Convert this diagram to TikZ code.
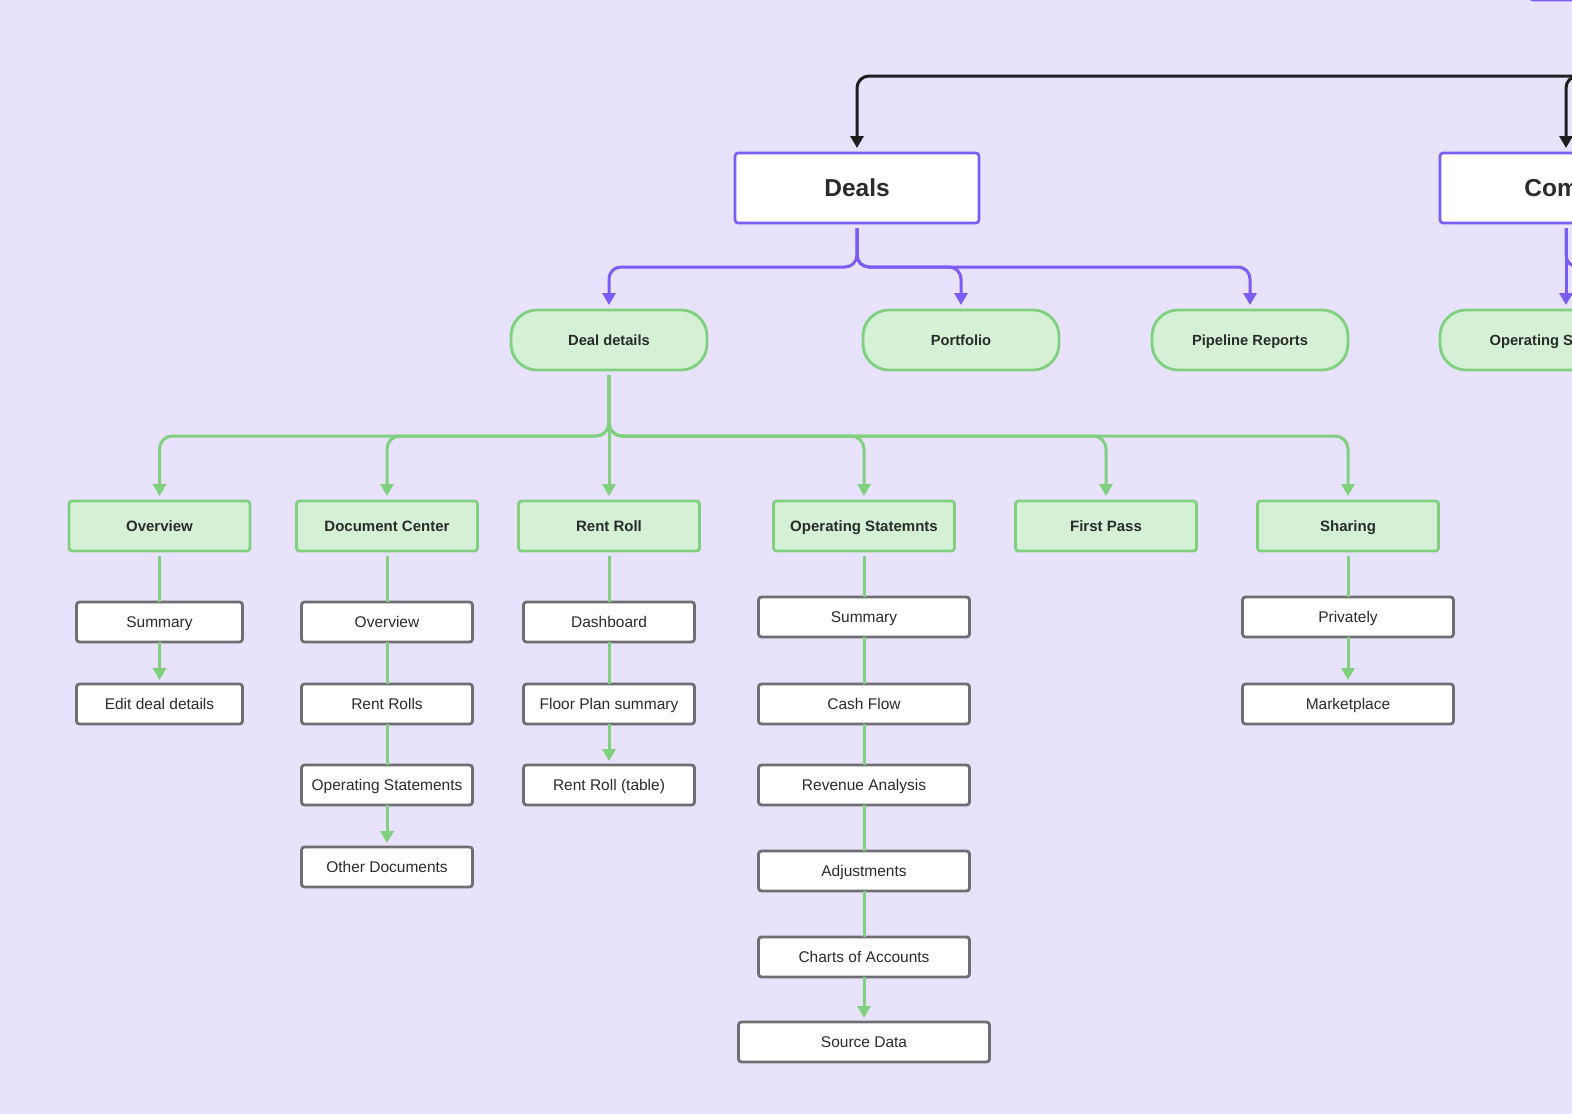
\documentclass[tikz,border=0pt]{standalone}
\usepackage{fontspec}
\setmainfont{Liberation Sans}
\usetikzlibrary{arrows.meta}

\definecolor{bglilac}{HTML}{E8E2FC}
\definecolor{linkpurple}{HTML}{7B5CF5}
\definecolor{leafgreen}{HTML}{80D080}
\definecolor{fillgreen}{HTML}{D4F1D6}
\definecolor{boxgray}{HTML}{6F6F73}
\definecolor{inkdark}{HTML}{2B2B2B}

\begin{document}
\begin{tikzpicture}[x=1pt, y=-1pt, align=center,
    hub/.style={draw=linkpurple, fill=white, line width=2.6pt, rounded corners=3pt,
        minimum width=244pt, minimum height=70pt, inner sep=0pt, outer sep=5pt,
        text height=20pt, text depth=2.5pt,
        text=inkdark, font=\fontsize{24.5}{28}\selectfont\bfseries},
    pill/.style={draw=leafgreen, fill=fillgreen, line width=2.8pt, rounded corners=26pt,
        minimum width=196pt, minimum height=60pt, inner sep=0pt, outer sep=5pt,
        text height=12pt, text depth=1.5pt,
        text=inkdark, font=\fontsize{14.7}{17}\selectfont\bfseries},
    sectionbox/.style={draw=leafgreen, fill=fillgreen, line width=2.8pt, rounded corners=3pt,
        minimum width=181pt, minimum height=50pt, inner sep=0pt, outer sep=5pt,
        text height=12.2pt, text depth=1.5pt,
        text=inkdark, font=\fontsize{15}{18}\selectfont\bfseries},
    pagebox/.style={draw=boxgray, fill=white, line width=2.8pt, rounded corners=3pt,
        minimum height=40pt, inner sep=0pt, outer sep=0pt,
        text height=12.6pt, text depth=1.5pt,
        text=inkdark, font=\fontsize{15.5}{18}\selectfont},
    blacklink/.style={draw=black!88, line width=3pt, rounded corners=12pt,
        -{Triangle[width=13pt,length=12pt]}},
    purplelink/.style={draw=linkpurple, line width=3pt, rounded corners=12pt,
        -{Triangle[width=13pt,length=12pt]}},
    greenlink/.style={draw=leafgreen, line width=3pt, rounded corners=13pt,
        -{Triangle[width=13pt,length=12pt]}},
    greenline/.style={draw=leafgreen, line width=3pt},
    greenarrow/.style={greenline, shorten >=4pt, -{Triangle[width=13pt,length=12pt]}}]

    \useasboundingbox (0, 0) rectangle (1572, 1114);
    \fill[bglilac] (0, 0) rectangle (1572, 1114);
    \clip (0, 0) rectangle (1572, 1114);

    % top level
    \node[hub, minimum width=250pt] at (1655, -35) (root) {};
    \node[hub] at (857, 188) (deals) {Deals};
    \node[hub, minimum width=252pt] at (1566, 188) (comps) {Comps};

    % second level
    \node[pill] at (609, 340) (dd) {Deal details};
    \node[pill] at (961, 340) (port) {Portfolio};
    \node[pill] at (1250, 340) (pipe) {Pipeline Reports};
    \node[pill, minimum width=252pt] at (1566, 340) (opstat) {Operating Statements};

    % sections of deal details
    \node[sectionbox] at (159.5, 526) (ov) {Overview};
    \node[sectionbox] at (387, 526) (dc) {Document Center};
    \node[sectionbox] at (609, 526) (rr) {Rent Roll};
    \node[sectionbox] at (864, 526) (os) {Operating Statemnts};
    \node[sectionbox] at (1106, 526) (fp) {First Pass};
    \node[sectionbox] at (1348, 526) (sh) {Sharing};

    % pages
    \node[pagebox, minimum width=166pt] at (159.5, 622) (ovsum) {Summary};
    \node[pagebox, minimum width=166pt] at (159.5, 704) (ovedit) {Edit deal details};

    \node[pagebox, minimum width=171pt] at (387, 622) (dcov) {Overview};
    \node[pagebox, minimum width=171pt] at (387, 704) (dcrent) {Rent Rolls};
    \node[pagebox, minimum width=171pt] at (387, 785) (dcops) {Operating Statements};
    \node[pagebox, minimum width=171pt] at (387, 867) (dcother) {Other Documents};

    \node[pagebox, minimum width=171pt] at (609, 622) (rrdash) {Dashboard};
    \node[pagebox, minimum width=171pt] at (609, 704) (rrfloor) {Floor Plan summary};
    \node[pagebox, minimum width=171pt] at (609, 785) (rrtable) {Rent Roll (table)};

    \node[pagebox, minimum width=211pt] at (864, 617) (ossum) {Summary};
    \node[pagebox, minimum width=211pt] at (864, 704) (oscash) {Cash Flow};
    \node[pagebox, minimum width=211pt] at (864, 785) (osrev) {Revenue Analysis};
    \node[pagebox, minimum width=211pt] at (864, 871) (osadj) {Adjustments};
    \node[pagebox, minimum width=211pt] at (864, 957) (oschart) {Charts of Accounts};
    \node[pagebox, minimum width=251pt] at (864, 1042) (ossource) {Source Data};

    \node[pagebox, minimum width=211pt] at (1348, 617) (shpriv) {Privately};
    \node[pagebox, minimum width=211pt] at (1348, 704) (shmarket) {Marketplace};

    % bus points
    \coordinate (rootbus) at (1655, 76);
    \coordinate (dealsbus) at (857, 267);
    \coordinate (compsbus) at (1566, 267);
    \coordinate (compsnext) at (1760, 305);
    \coordinate (ddbus) at (609, 436);

    \draw[blacklink] (root.south) -- (rootbus) -| (deals.north);
    \draw[blacklink] (root.south) -- (rootbus) -| (comps.north);

    \draw[purplelink] (deals.south) -- (dealsbus) -| (dd.north);
    \draw[purplelink] (deals.south) -- (dealsbus) -| (port.north);
    \draw[purplelink] (deals.south) -- (dealsbus) -| (pipe.north);
    \draw[purplelink] (comps.south) -- (opstat.north);
    \draw[purplelink] (comps.south) -- (compsbus) -| (compsnext);

    \draw[greenlink] (dd.south) -- (rr.north);
    \foreach \sec in {ov, dc, os, fp, sh}
        \draw[greenlink] (dd.south) -- (ddbus) -| (\sec.north);

    \foreach \a/\b in {ov/ovsum, dc/dcov, dcov/dcrent, dcrent/dcops,
                       rr/rrdash, rrdash/rrfloor, os/ossum, ossum/oscash,
                       oscash/osrev, osrev/osadj, osadj/oschart, sh/shpriv}
        \draw[greenline] (\a.south) -- (\b.north);

    \foreach \a/\b in {ovsum/ovedit, dcops/dcother, rrfloor/rrtable,
                       oschart/ossource, shpriv/shmarket}
        \draw[greenarrow] (\a.south) -- (\b.north);
\end{tikzpicture}
\end{document}
